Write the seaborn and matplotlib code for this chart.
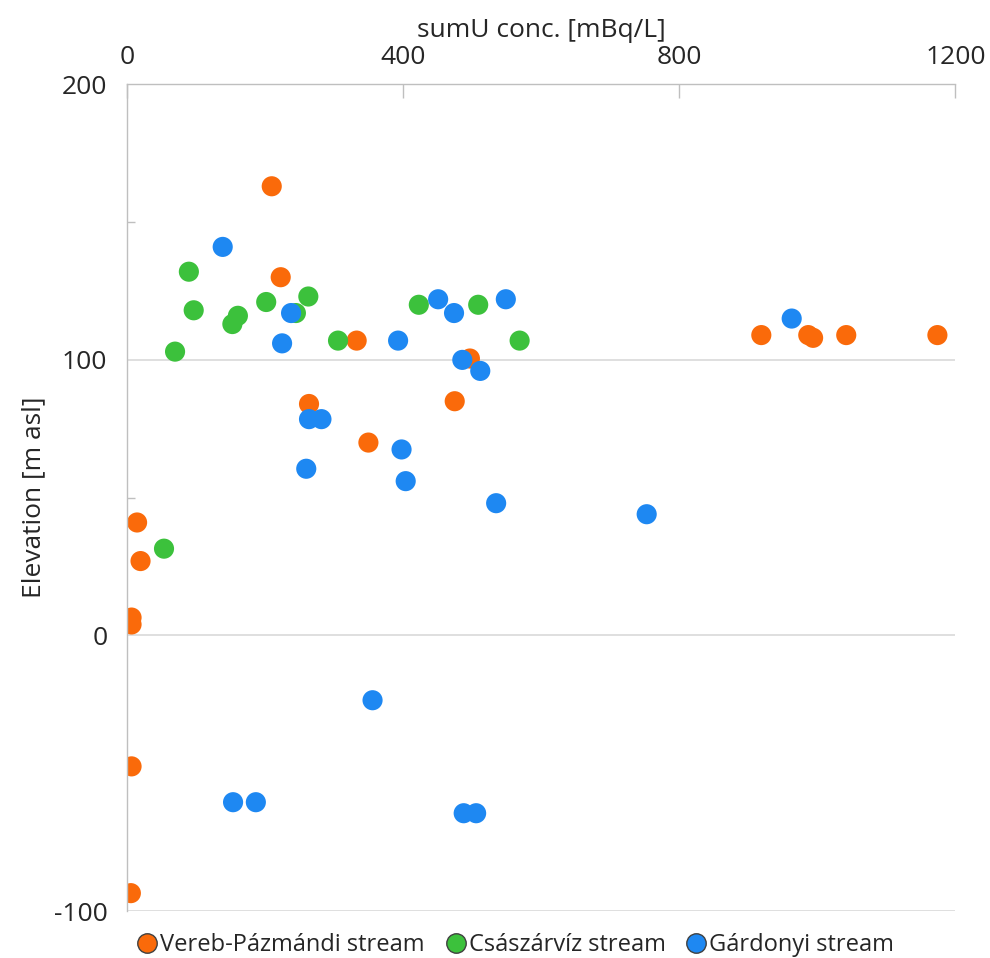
import pandas as pd
import numpy as np
import matplotlib.pyplot as plt
import seaborn as sns

# Data (sumU conc. [mBq/L], elevation [m asl])
vereb_x = [210, 223, 333, 264, 350, 475, 497, 15, 20, 7, 7, 7, 6, 919, 987, 994, 1042, 1174]
vereb_y = [163, 130, 107, 84, 70, 85, 100.5, 41, 27, 6.5, 4, -47.5, -93.5, 109, 109, 108, 109, 109]

csaszar_x = [90, 97, 70, 153, 161, 202, 245, 263, 306, 423, 509, 569, 54]
csaszar_y = [132, 118, 103, 113, 116, 121, 117, 123, 107, 120, 120, 107, 31.5]

gardonyi_x = [139, 238, 225, 393, 451, 474, 486, 512, 549, 963, 264, 282, 260, 398, 404, 535, 753, 356, 154, 187, 488, 506]
gardonyi_y = [141, 117, 106, 107, 122, 117, 100, 96, 122, 115, 78.5, 78.5, 60.5, 67.5, 56, 48, 44, -23.5, -60.5, -60.5, -64.5, -64.5]

streams = ["Vereb-Pázmándi stream", "Császárvíz stream", "Gárdonyi stream"]
colors = ["#FA6A0A", "#3CC13C", "#1E88F2"]

df = pd.concat([
    pd.DataFrame({"x": vereb_x, "y": vereb_y, "stream": streams[0]}),
    pd.DataFrame({"x": csaszar_x, "y": csaszar_y, "stream": streams[1]}),
    pd.DataFrame({"x": gardonyi_x, "y": gardonyi_y, "stream": streams[2]}),
])

sns.set_style("white")
plt.rcParams['font.family'] = ['Open Sans', 'DejaVu Sans']
plt.rcParams['axes.unicode_minus'] = False

fig = plt.figure(figsize=(9.9, 9.58), dpi=100)
ax = fig.add_axes([0.128, 0.049, 0.837, 0.863])

sns.scatterplot(data=df, x="x", y="y", hue="stream", palette=colors,
                s=210, linewidth=0, alpha=1, ax=ax, legend=True)

ax.set_xlim(0, 1200)
ax.set_ylim(-100, 200)

# x axis on top
ax.xaxis.tick_top()
ax.xaxis.set_label_position("top")
ax.set_xticks([0, 400, 800, 1200])
ax.set_xlabel("sumU conc. [mBq/L]", fontsize=19, labelpad=6)
ax.set_ylabel("Elevation [m asl]", fontsize=19, labelpad=5)
ax.set_yticks([-100, 0, 100, 200])
ax.set_yticks([-50, 50, 150], minor=True)
ax.tick_params(axis="x", which="major", direction="in", length=10, width=1,
               color="#BFBFBF", labelsize=19, pad=10)
ax.tick_params(axis="y", which="major", length=0, labelsize=19, pad=14)
ax.tick_params(axis="y", which="minor", direction="in", length=6, width=1,
               color="#BFBFBF", left=True)

for yv in [-100, 0, 100]:
    ax.axhline(yv, color="#D9D9D9", lw=1.2, zorder=0)

for side in ["right", "bottom"]:
    ax.spines[side].set_visible(False)
for side in ["top", "left"]:
    ax.spines[side].set_color("#BFBFBF")
    ax.spines[side].set_linewidth(1)

handles, labels = ax.get_legend_handles_labels()
ax.get_legend().remove()
for h in handles:
    h.set_markeredgecolor("#404040")
    h.set_markeredgewidth(1)
    h.set_markersize(14)
fig.legend(handles, labels, loc="lower center", bbox_to_anchor=(0.52, -0.021),
           ncol=3, frameon=False, fontsize=17, handletextpad=0.05,
           columnspacing=0.8, handlelength=1.0)

fig.savefig("out.png", dpi=100)
